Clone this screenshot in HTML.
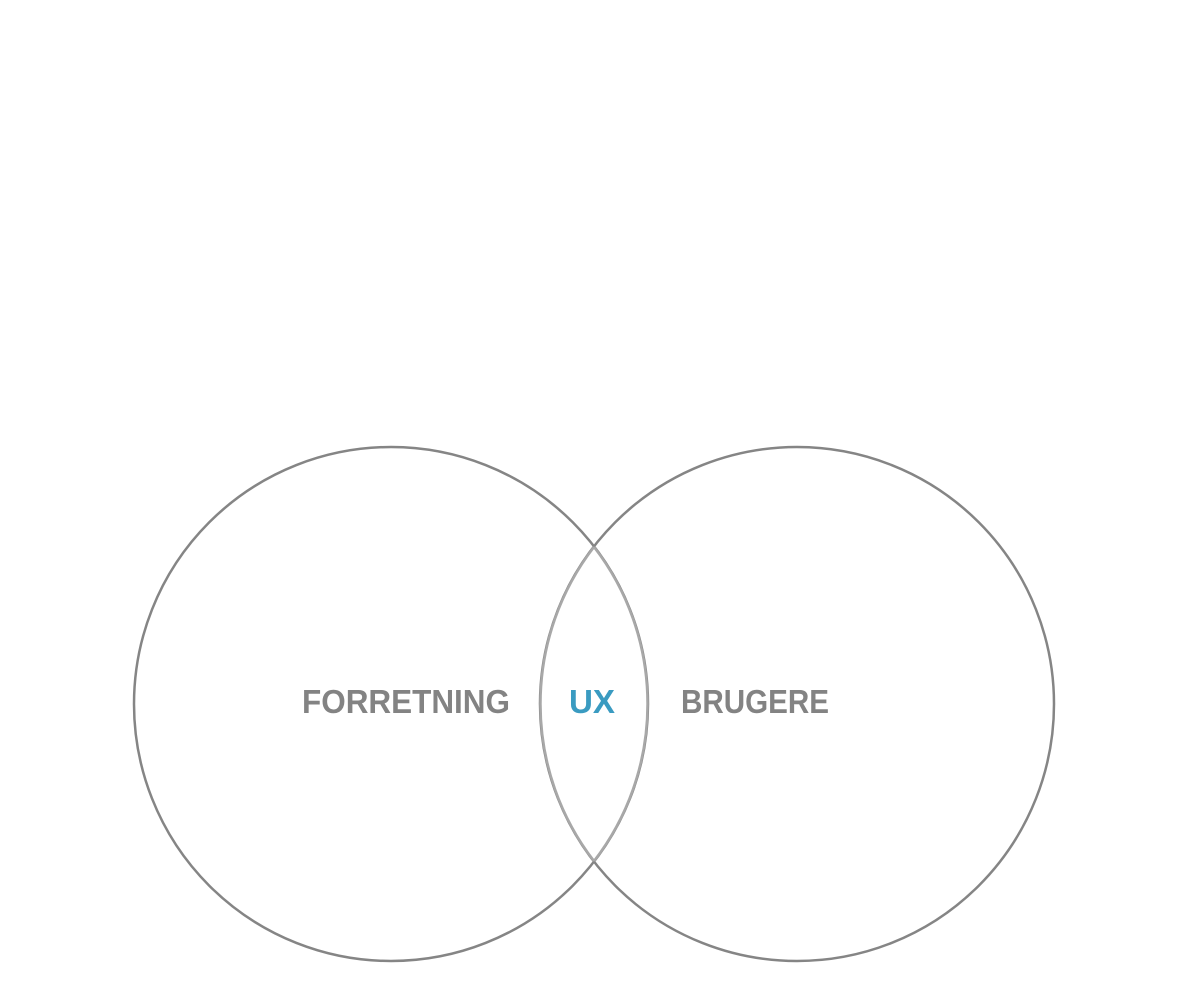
<!DOCTYPE html>
<html><head><meta charset="utf-8"><style>html,body{margin:0;background:#fff}svg{display:block}</style></head>
<body>
<svg width="1200" height="1000" font-family="Liberation Sans, sans-serif" font-weight="bold">
<circle cx="391" cy="704" r="257" fill="none" stroke="#858585" stroke-width="2.5"/>
<circle cx="797" cy="704" r="257" fill="none" stroke="#858585" stroke-width="2.5"/>
<path d="M594 547 A257 257 0 0 0 594 861" fill="none" stroke="#a8a8a8" stroke-width="2.5"/>
<path d="M594 547 A257 257 0 0 1 594 861" fill="none" stroke="#a8a8a8" stroke-width="2.5"/>
<text x="302" y="713" font-size="33" fill="#838383" textLength="208" lengthAdjust="spacingAndGlyphs">FORRETNING</text>
<text x="569" y="713" font-size="33" fill="#3a9bc1" textLength="46" lengthAdjust="spacingAndGlyphs">UX</text>
<text x="681" y="713" font-size="33" fill="#838383" textLength="148" lengthAdjust="spacingAndGlyphs">BRUGERE</text>
</svg>
</body></html>
